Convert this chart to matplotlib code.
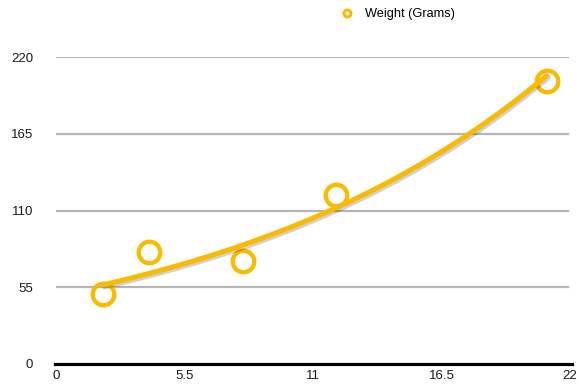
import numpy as np
import matplotlib
matplotlib.use("Agg")
import matplotlib.pyplot as plt
import matplotlib.patheffects as pe
from matplotlib.lines import Line2D

plt.rcParams['font.family'] = ['Liberation Sans', 'DejaVu Sans']

# Measurements
age = [2, 4, 8, 12, 21]
weight = [50, 80, 74, 121, 203]
series_label = "Weight (Grams)"
x_ticks = [0, 5.5, 11, 16.5, 22]
y_ticks = [0, 55, 110, 165, 220]

gold = "#FABA00"

fig = plt.figure(figsize=(5.79, 3.86), dpi=100)
ax = fig.add_axes([56 / 579, 22 / 386, 514 / 579, 307 / 386])

# Exponential trend line fitted on log(weight)
b, ln_a = np.polyfit(age, np.log(weight), 1)
xs = np.linspace(min(age), max(age), 200)
ys = np.exp(ln_a + b * xs)

ax.plot(age, weight, linestyle="none", marker="o", markersize=15.5,
        markerfacecolor="none", markeredgecolor=gold, markeredgewidth=3.1,
        zorder=3, clip_on=False)
ax.plot(xs, ys, color=gold, linewidth=3.6, solid_capstyle="round", zorder=4,
        path_effects=[pe.SimpleLineShadow(offset=(1.2, -1.5), alpha=0.18, shadow_color="black"),
                      pe.Normal()])

ax.set_xlim(0, 22)
ax.set_ylim(0, 220)
ax.set_xticks(x_ticks)
ax.set_xticklabels([f"{v:g}" for v in x_ticks])
ax.set_yticks(y_ticks)
ax.set_yticklabels([f"{v:g}" for v in y_ticks])

for v in y_ticks[1:]:
    ax.axhline(v, xmin=0.002, xmax=0.996, color="#b5b5b5", linewidth=1.6, zorder=1)

for s in ["top", "right", "left"]:
    ax.spines[s].set_visible(False)
ax.spines["bottom"].set_linewidth(2.3)
ax.spines["bottom"].set_color("black")
ax.spines["bottom"].set_bounds(-0.05, 22.1)

ax.tick_params(axis="both", length=0, labelsize=9.5, colors="#1a1a1a")
ax.tick_params(axis="y", pad=16.5)
ax.tick_params(axis="x", pad=4.5)

# Legend entry at the top
handle = Line2D([], [], linestyle="none", marker="o", markersize=5,
                markerfacecolor="none", markeredgecolor=gold, markeredgewidth=2.2)
fig.legend([handle], [series_label], loc="center left",
           bbox_to_anchor=(340.5 / 579, 1 - 14 / 386), frameon=False,
           fontsize=9.2, handlelength=1.0, handletextpad=0.9,
           borderaxespad=0, borderpad=0)

fig.savefig("out.png", dpi=100)
